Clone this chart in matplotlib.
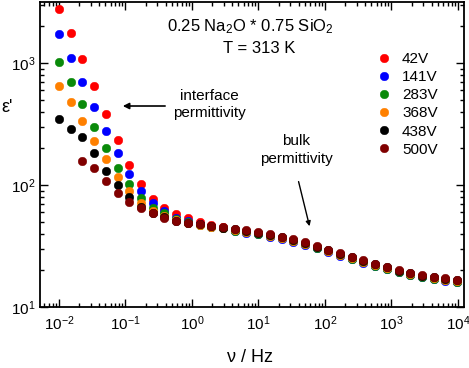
import matplotlib
matplotlib.use("Agg")
import matplotlib.pyplot as plt
import numpy as np

plt.rcParams['font.family'] = ['Liberation Sans', 'DejaVu Sans']
plt.rcParams['mathtext.fontset'] = 'custom'
plt.rcParams['mathtext.rm'] = 'Liberation Sans'
plt.rcParams['mathtext.it'] = 'Liberation Sans:italic'
plt.rcParams['mathtext.bf'] = 'Liberation Sans:bold'

# frequency (Hz)
freq = [0.01, 0.015, 0.0225, 0.0338, 0.0506, 0.0759, 0.114, 0.171, 0.256, 0.384,
        0.577, 0.865, 1.30, 1.95, 2.92, 4.38, 6.57, 9.85, 14.8, 22.2,
        33.3, 49.9, 74.8, 112, 168, 253, 379, 568, 852, 1280,
        1920, 2880, 4310, 6470, 9700]

x_ticks = [1e-2, 1e-1, 1e0, 1e1, 1e2, 1e3, 1e4]
x_ticklabels = ['$10^{-2}$', '$10^{-1}$', '$10^{0}$', '$10^{1}$', '$10^{2}$', '$10^{3}$', '$10^{4}$']
y_ticks = [1e1, 1e2, 1e3]
y_ticklabels = ['$10^{1}$', '$10^{2}$', '$10^{3}$']

labels = ['42V', '141V', '283V', '368V', '438V', '500V']
colors = ['#ff0000', '#0000ff', '#0a8a0a', '#ff8000', '#000000', '#800000']

eps_42 = [2755, 1770, 1084, 652, 384, 232, 146, 101, 77.3, 64.7,
          57.5, 53.4, 49.5, 47.0, 45.5, 42.7, 41.6, 40.3, 38.7, 37.0,
          35.1, 33.1, 31.0, 29.0, 27.0, 25.3, 23.6, 22.1, 20.9, 19.7,
          18.7, 17.9, 17.3, 16.9, 16.4]
eps_141 = [1738, 1105, 695, 438, 279, 184, 123, 89.7, 70.8, 61.2,
           53.7, 50.5, 47.5, 45.5, 44.3, 41.6, 40.5, 39.3, 37.7, 36.1,
           34.2, 32.3, 30.2, 28.3, 26.4, 24.6, 23.0, 21.6, 20.3, 19.2,
           18.2, 17.5, 16.9, 16.4, 15.9]
eps_283 = [1026, 698, 459, 299, 201, 139, 101, 78.7, 64.4, 58.6,
           52.5, 49.5, 47.0, 45.2, 44.0, 42.1, 40.9, 39.7, 38.1, 36.5,
           34.5, 32.6, 30.5, 28.6, 26.6, 24.9, 23.3, 21.8, 20.6, 19.4,
           18.4, 17.7, 17.1, 16.6, 16.1]
eps_368 = [648, 482, 336, 231, 162, 117, 89.0, 71.6, 61.5, 56.0,
           51.5, 49.0, 47.0, 45.5, 44.3, 42.5, 41.3, 40.1, 38.5, 36.9,
           34.9, 33.0, 30.8, 28.9, 26.9, 25.2, 23.5, 22.0, 20.8, 19.6,
           18.6, 17.8, 17.3, 16.8, 16.3]
eps_438 = [349, 286, 246, 182, 131, 99.6, 80.0, 66.4, 58.8, 54.5,
           51.0, 49.0, 47.5, 46.0, 44.8, 43.2, 42.0, 40.7, 39.1, 37.4,
           35.4, 33.5, 31.3, 29.3, 27.3, 25.5, 23.9, 22.4, 21.1, 19.9,
           18.9, 18.1, 17.5, 17.0, 16.5]
eps_500 = [np.nan, np.nan, 156, 137, 108, 86.5, 73.0, 64.4, 58.6, 54.0,
           51.0, 49.0, 47.5, 46.3, 45.2, 43.6, 42.4, 41.1, 39.5, 37.8,
           35.8, 33.8, 31.6, 29.6, 27.6, 25.8, 24.1, 22.6, 21.3, 20.1,
           19.1, 18.3, 17.7, 17.2, 16.7]

series = [eps_42, eps_141, eps_283, eps_368, eps_438, eps_500]

fig = plt.figure(figsize=(4.69, 3.68), dpi=100)
ax = fig.add_axes([40/469, 1-307/368, 423.5/469, 305/368])

for vals, c, lab in zip(series, colors, labels):
    ax.plot(freq, vals, linestyle='none', marker='o', markersize=6.2,
            markerfacecolor=c, markeredgecolor=c, markeredgewidth=0.3, label=lab)

ax.set_xscale('log')
ax.set_yscale('log')
ax.set_xlim(0.00518, 12100)
ax.set_ylim(10, 3162)

ax.xaxis.set_major_locator(matplotlib.ticker.FixedLocator(x_ticks))
ax.xaxis.set_major_formatter(matplotlib.ticker.FixedFormatter(x_ticklabels))
ax.xaxis.set_minor_locator(matplotlib.ticker.LogLocator(base=10, subs=np.arange(2, 10), numticks=20))
ax.xaxis.set_minor_formatter(matplotlib.ticker.NullFormatter())
ax.yaxis.set_major_locator(matplotlib.ticker.FixedLocator(y_ticks))
ax.yaxis.set_major_formatter(matplotlib.ticker.FixedFormatter(y_ticklabels))
ax.yaxis.set_minor_locator(matplotlib.ticker.LogLocator(base=10, subs=np.arange(2, 10), numticks=20))
ax.yaxis.set_minor_formatter(matplotlib.ticker.NullFormatter())

ax.tick_params(which='both', direction='in', top=True, right=True, labelsize=11)
ax.tick_params(which='major', length=6, width=1)
ax.tick_params(which='minor', length=3, width=1)
ax.tick_params(axis='x', which='major', pad=5)
for s in ax.spines.values():
    s.set_linewidth(1.3)

leg = ax.legend(loc='upper left', bbox_to_anchor=((376-40)/423.5, (307-52)/305),
                frameon=False, fontsize=11, handlelength=1.0, handletextpad=0.7,
                labelspacing=0.27, borderpad=0, borderaxespad=0, markerscale=1.0)

ax.text(0.496, 0.9026, '0.25 Na$_2$O * 0.75 SiO$_2$', transform=ax.transAxes,
        ha='center', va='baseline', fontsize=12)
ax.text(0.517, 0.8318, 'T = 313 K', transform=ax.transAxes,
        ha='center', va='baseline', fontsize=12)

ax.text(0.401, 0.679, 'interface', transform=ax.transAxes, ha='center', va='baseline', fontsize=11)
ax.text(0.401, 0.623, 'permittivity', transform=ax.transAxes, ha='center', va='baseline', fontsize=11)
ax.annotate('', xy=(0.189, 0.659), xytext=(0.302, 0.659), xycoords='axes fraction',
            arrowprops=dict(arrowstyle='-|>', color='black', lw=1.2, mutation_scale=9))

ax.text(0.6045, 0.531, 'bulk', transform=ax.transAxes, ha='center', va='baseline', fontsize=11)
ax.text(0.6045, 0.472, 'permittivity', transform=ax.transAxes, ha='center', va='baseline', fontsize=11)
ax.annotate('', xy=(0.638, 0.256), xytext=(0.609, 0.420), xycoords='axes fraction',
            arrowprops=dict(arrowstyle='-|>', color='black', lw=1.0, mutation_scale=7))

fig.text(1/469, 1-108/368, "ε'", ha='left', va='center', fontsize=13)
fig.text(250/469, 0.028, 'ν / Hz', ha='center', va='center', fontsize=13)

fig.savefig('out.png', dpi=100)
